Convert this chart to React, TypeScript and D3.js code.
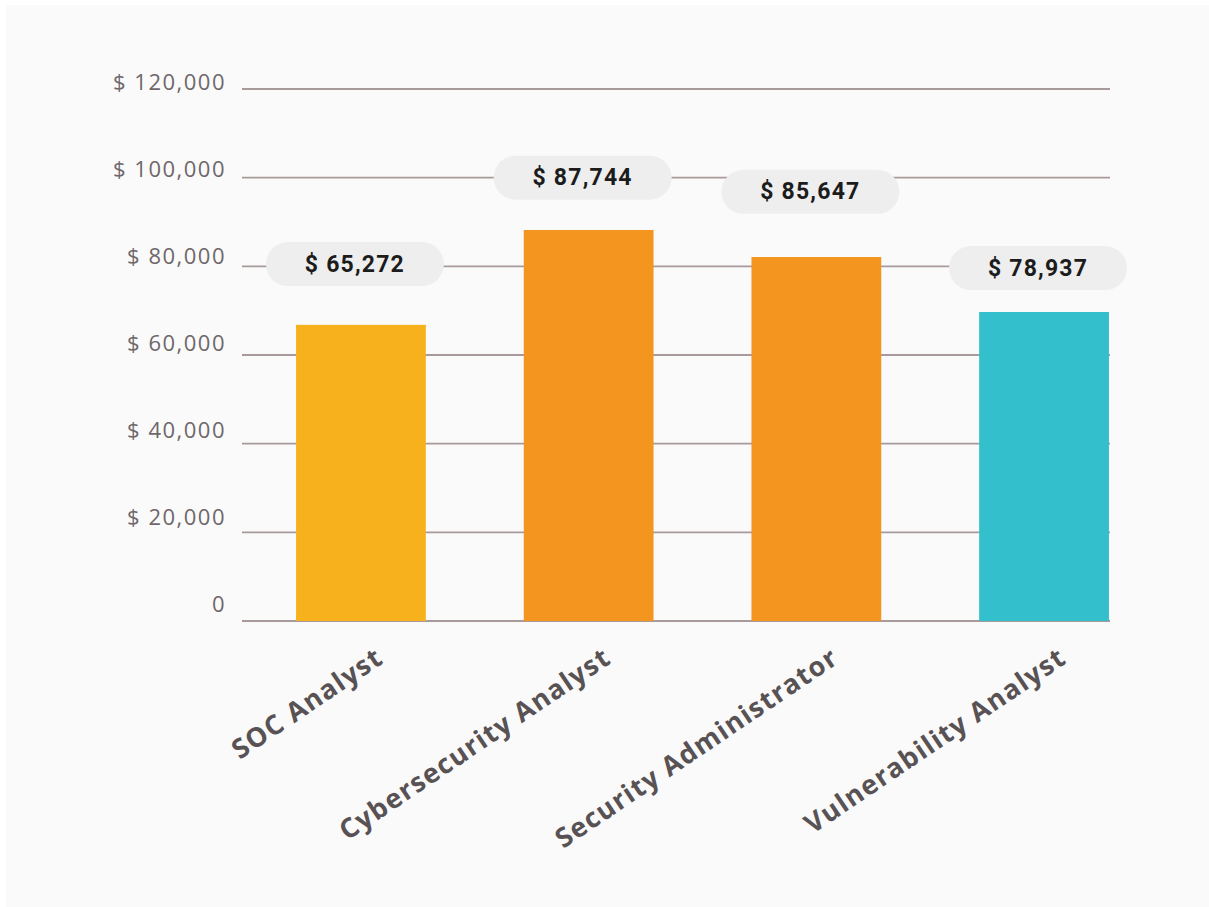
import React from "react";
import * as d3 from "d3";

const categories = ["SOC Analyst", "Cybersecurity Analyst", "Security Administrator", "Vulnerability Analyst"];
// bar heights as drawn in the picture
const barValues = [66800, 88200, 82100, 69700];
// printed labels
const valueLabels = ["$ 65,272", "$ 87,744", "$ 85,647", "$ 78,937"];
// vertical anchor of each label pill (in axis units)
const labelAnchors = [80500, 100000, 96800, 79600];
const barColors = ["#F6B11D", "#F4951F", "#F4951F", "#33BFCB"];
const tickValues = [0, 20000, 40000, 60000, 80000, 100000, 120000];
const tickLabels = ["0", "$ 20,000", "$ 40,000", "$ 60,000", "$ 80,000", "$ 100,000", "$ 120,000"];

const W = 1209;
const H = 907;

export default function App() {
  const y = d3.scaleLinear().domain([0, 120000]).range([621, 89]);
  const yLabel = d3.scaleLinear().domain([0, 120000]).range([603, 81]);
  const x = d3
    .scaleBand<string>()
    .domain(categories)
    .range([243, 1162])
    .paddingInner(0.43)
    .paddingOuter(0.233);

  const pillW = 178;
  const pillH = 44;

  return (
    <div style={{ position: "absolute", left: 0, top: 0 }}>
      <svg width={W} height={H} viewBox={`0 0 ${W} ${H}`} style={{ display: "block" }}>
        <rect x={0} y={0} width={W} height={H} fill="#ffffff" />
        <rect x={6} y={5} width={W - 6} height={H - 5} fill="#fafafa" />
        {/* gridlines */}
        {tickValues.map((v) => (
          <line
            key={"g" + v}
            x1={242}
            x2={1110}
            y1={y(v)}
            y2={y(v)}
            stroke="#a89a9a"
            strokeWidth={1.8}
          />
        ))}
        {/* tick labels */}
        {tickValues.map((v, i) => (
          <text
            key={"t" + v}
            x={226}
            y={yLabel(v)}
            textAnchor="end"
            dominantBaseline="central"
            fontFamily="'Open Sans', sans-serif"
            fontSize={22}
            letterSpacing={1.5}
            fill="#6f6769"
          >
            {tickLabels[i]}
          </text>
        ))}
        {/* bars */}
        {categories.map((c, i) => (
          <rect
            key={"b" + c}
            x={x(c)}
            y={y(barValues[i])}
            width={x.bandwidth()}
            height={y(0) - y(barValues[i])}
            fill={barColors[i]}
          />
        ))}
        {/* value pills */}
        {categories.map((c, i) => {
          const cx = (x(c) as number) + x.bandwidth() / 2 - 6;
          const cy = y(labelAnchors[i]);
          return (
            <g key={"p" + c}>
              <rect
                x={cx - pillW / 2}
                y={cy - pillH / 2}
                width={pillW}
                height={pillH}
                rx={22}
                fill="#eeeeee"
              />
              <text
                x={cx}
                y={cy}
                textAnchor="middle"
                dominantBaseline="central"
                fontFamily="Roboto, sans-serif"
                fontWeight={700}
                fontSize={23}
                letterSpacing={1.2}
                fill="#1c1c1c"
              >
                {valueLabels[i]}
              </text>
            </g>
          );
        })}
        {/* category labels */}
        {categories.map((c) => {
          const ex = (x(c) as number) + x.bandwidth() / 2 + 24;
          const ey = 662;
          return (
            <text
              key={"c" + c}
              transform={`translate(${ex},${ey}) rotate(-34)`}
              textAnchor="end"
              fontFamily="'Open Sans', sans-serif"
              fontWeight={700}
              fontSize={27}
              letterSpacing={1.2}
              fill="#585254"
            >
              {c}
            </text>
          );
        })}
      </svg>
    </div>
  );
}
